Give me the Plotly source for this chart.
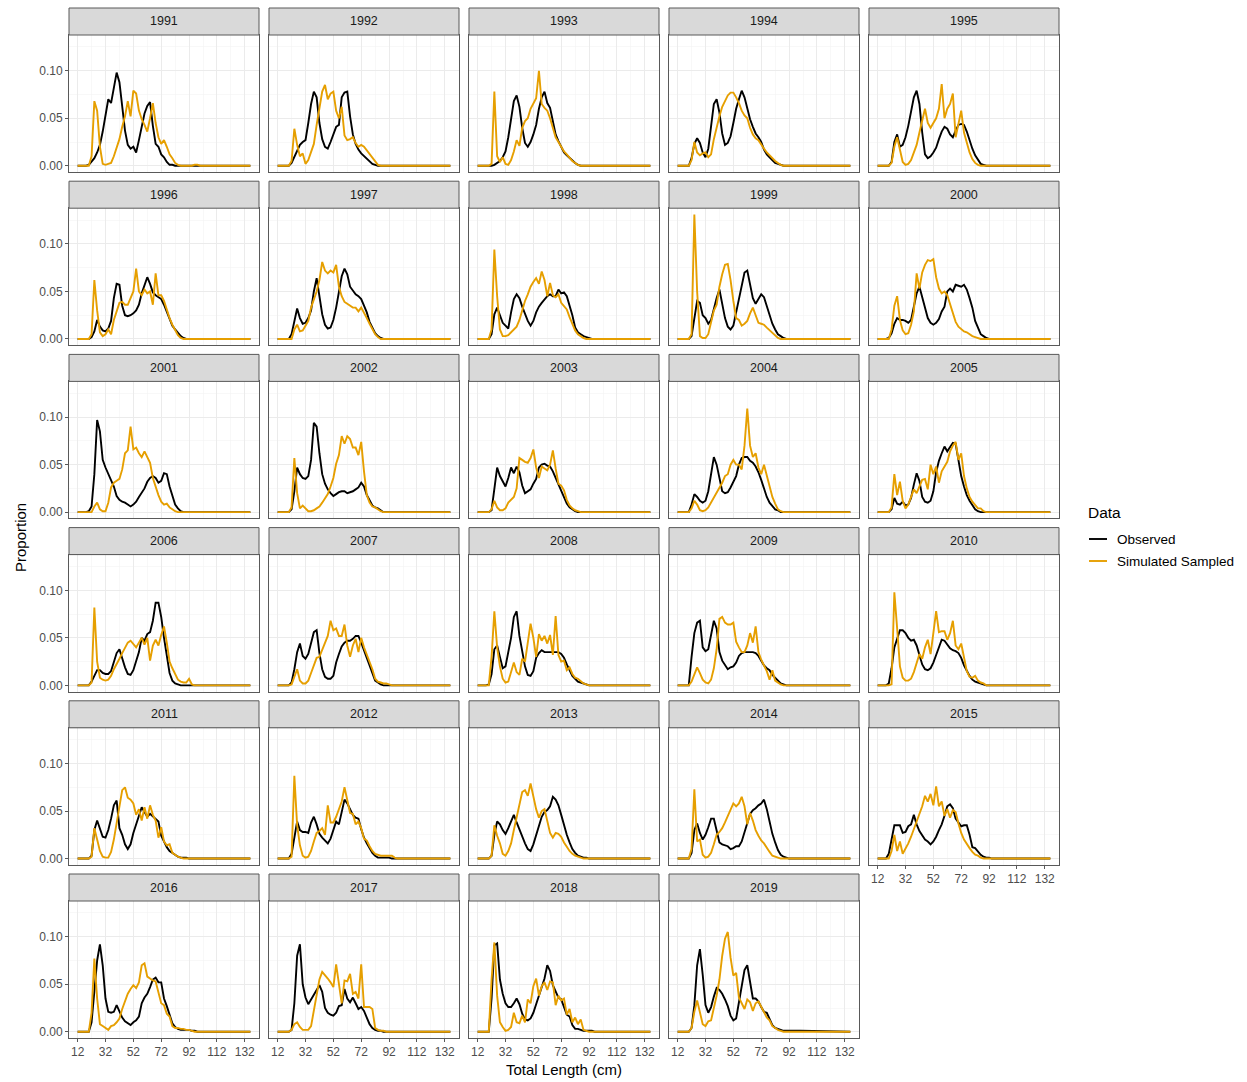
import plotly.graph_objects as go

# ---------------- data ----------------
LENGTHS = [12, 14, 16, 18, 20, 22, 24, 26, 28, 30, 32, 34, 36, 38, 40, 42, 44, 46, 48, 50,
           52, 54, 56, 58, 60, 62, 64, 66, 68, 70, 72, 74, 76, 78, 80, 82, 84, 86, 88, 90,
           92, 94, 96, 98, 100, 136]
YEARS = list(range(1991, 2020))
X_TICKS = [12, 32, 52, 72, 92, 112, 132]
X_MINOR = [22, 42, 62, 82, 102, 122]
Y_TICKS = [0.0, 0.05, 0.10]
Y_TICK_TEXT = ["0.00", "0.05", "0.10"]
Y_MINOR = [0.025, 0.075, 0.125]
SERIES = ["Observed", "Simulated Sampled"]
COLORS = {"Observed": "#000000", "Simulated Sampled": "#E69F00"}

obs_1991 = [0,0,0,0,0.001, 0.004,0.008,0.014,0.022,0.036, 0.055,0.07,0.066,0.083,0.098, 0.088,0.062,0.037,0.022,0.018, 0.02,0.014,0.027,0.043,0.055, 0.063,0.067,0.042,0.023,0.02, 0.012,0.009,0.004,0.001,0.001, 0,0,0,0,0, 0,0,0,0,0, 0]
sim_1991 = [0,0,0,0,0, 0.01,0.068,0.058,0.02,0.002, 0.001,0.002,0.003,0.01,0.02, 0.028,0.041,0.052,0.068,0.052, 0.079,0.076,0.058,0.049,0.043, 0.036,0.05,0.066,0.045,0.03, 0.023,0.027,0.02,0.012,0.008, 0.003,0.001,0,0,0, 0,0,0.001,0.001,0, 0]
obs_1992 = [0,0,0,0,0, 0.003,0.01,0.017,0.022,0.025, 0.027,0.045,0.065,0.078,0.072, 0.045,0.028,0.02,0.018,0.025, 0.034,0.041,0.043,0.072,0.077, 0.078,0.052,0.033,0.023,0.017, 0.013,0.01,0.007,0.004,0.002, 0.001,0,0,0,0, 0,0,0,0,0, 0]
sim_1992 = [0,0,0,0,0, 0.005,0.039,0.022,0.01,0.013, 0.002,0.006,0.014,0.023,0.043, 0.062,0.078,0.085,0.07,0.076, 0.078,0.058,0.05,0.062,0.032, 0.027,0.028,0.03,0.024,0.02, 0.022,0.02,0.016,0.012,0.009, 0.004,0.001,0,0,0, 0,0,0,0,0, 0]
obs_1993 = [0,0,0,0,0, 0,0.001,0.003,0.005,0.009, 0.015,0.03,0.05,0.068,0.074, 0.062,0.04,0.024,0.02,0.025, 0.033,0.043,0.06,0.072,0.078, 0.066,0.061,0.048,0.033,0.026, 0.02,0.014,0.011,0.008,0.006, 0.003,0.001,0,0,0, 0,0,0,0,0, 0]
sim_1993 = [0,0,0,0,0, 0.002,0.078,0.01,0.004,0.009, 0.002,0.001,0.006,0.015,0.027, 0.021,0.04,0.047,0.05,0.06, 0.065,0.071,0.1,0.065,0.061, 0.058,0.05,0.04,0.03,0.025, 0.02,0.015,0.012,0.008,0.005, 0.003,0.001,0,0,0, 0,0,0,0,0, 0]
obs_1994 = [0,0,0,0,0, 0.008,0.023,0.029,0.024,0.014, 0.009,0.018,0.04,0.065,0.07, 0.056,0.034,0.022,0.024,0.031, 0.045,0.06,0.07,0.079,0.072, 0.06,0.049,0.041,0.034,0.03, 0.025,0.017,0.012,0.009,0.006, 0.003,0.002,0.001,0,0, 0,0,0,0,0, 0]
sim_1994 = [0,0,0,0,0, 0.006,0.025,0.014,0.011,0.013, 0.014,0.009,0.012,0.028,0.041, 0.052,0.062,0.068,0.074,0.077, 0.077,0.072,0.066,0.058,0.053, 0.05,0.04,0.033,0.029,0.027, 0.022,0.018,0.014,0.011,0.007, 0.005,0.003,0.001,0,0, 0,0,0,0,0, 0]
obs_1995 = [0,0,0,0,0, 0.004,0.025,0.033,0.02,0.022, 0.03,0.042,0.058,0.072,0.079, 0.065,0.035,0.012,0.008,0.01, 0.014,0.019,0.028,0.036,0.041, 0.039,0.033,0.03,0.037,0.043, 0.044,0.043,0.036,0.026,0.018, 0.011,0.006,0.002,0.001,0, 0,0,0,0,0, 0]
sim_1995 = [0,0,0,0,0, 0.003,0.02,0.03,0.015,0.004, 0.001,0.002,0.006,0.013,0.022, 0.035,0.046,0.06,0.045,0.04, 0.045,0.05,0.06,0.086,0.05, 0.06,0.065,0.076,0.03,0.045, 0.058,0.035,0.024,0.014,0.007, 0.003,0.001,0,0,0, 0,0,0,0,0, 0]
obs_1996 = [0,0,0,0,0, 0.002,0.008,0.02,0.013,0.009, 0.008,0.011,0.019,0.043,0.058, 0.057,0.035,0.025,0.024,0.025, 0.027,0.03,0.036,0.048,0.057, 0.065,0.058,0.049,0.046,0.044, 0.042,0.036,0.028,0.02,0.014, 0.01,0.006,0.003,0.001,0, 0,0,0,0,0, 0]
sim_1996 = [0,0,0,0,0, 0.005,0.062,0.03,0.007,0.003, 0.005,0.01,0.005,0.02,0.028, 0.038,0.039,0.036,0.036,0.043, 0.05,0.074,0.05,0.046,0.052, 0.048,0.05,0.036,0.069,0.046, 0.046,0.04,0.03,0.022,0.015, 0.009,0.004,0.001,0,0, 0,0,0,0,0, 0]
obs_1997 = [0,0,0,0,0, 0.005,0.019,0.032,0.022,0.016, 0.017,0.022,0.03,0.05,0.064, 0.042,0.026,0.015,0.011,0.012, 0.02,0.033,0.05,0.066,0.074, 0.068,0.055,0.051,0.047,0.045, 0.042,0.035,0.028,0.018,0.011, 0.006,0.003,0.001,0,0, 0,0,0,0,0, 0]
sim_1997 = [0,0,0,0,0, 0,0.01,0.015,0.008,0.009, 0.014,0.019,0.033,0.042,0.05, 0.062,0.081,0.072,0.069,0.072, 0.07,0.078,0.055,0.045,0.039, 0.037,0.035,0.033,0.033,0.029, 0.033,0.028,0.022,0.016,0.01, 0.005,0.002,0,0,0, 0,0,0,0,0, 0]
obs_1998 = [0,0,0,0,0, 0.005,0.026,0.033,0.024,0.017, 0.014,0.011,0.028,0.042,0.047, 0.043,0.034,0.026,0.019,0.014, 0.019,0.028,0.034,0.038,0.042, 0.045,0.047,0.045,0.045,0.052, 0.048,0.049,0.045,0.035,0.025, 0.012,0.007,0.005,0.003,0.002, 0.001,0,0,0,0, 0]
sim_1998 = [0,0,0,0,0, 0.01,0.094,0.045,0.01,0.003, 0.003,0.004,0.007,0.01,0.013, 0.02,0.03,0.04,0.047,0.055, 0.06,0.064,0.058,0.071,0.062, 0.045,0.059,0.046,0.044,0.047, 0.038,0.034,0.031,0.023,0.015, 0.009,0.005,0.003,0.001,0, 0,0,0,0,0, 0]
obs_1999 = [0,0,0,0,0, 0.003,0.02,0.04,0.038,0.025, 0.022,0.016,0.02,0.032,0.043, 0.052,0.037,0.022,0.013,0.01, 0.014,0.028,0.045,0.058,0.07, 0.072,0.056,0.043,0.037,0.042, 0.047,0.044,0.035,0.024,0.016, 0.01,0.005,0.003,0.001,0, 0,0,0,0,0, 0]
sim_1999 = [0,0,0,0,0, 0.005,0.131,0.05,0.003,0.001, 0.001,0.005,0.018,0.03,0.036, 0.055,0.068,0.078,0.079,0.062, 0.04,0.022,0.02,0.014,0.016, 0.019,0.027,0.033,0.025,0.017, 0.016,0.015,0.012,0.009,0.006, 0.003,0.001,0,0,0, 0,0,0,0,0, 0]
obs_2000 = [0,0,0,0,0.001, 0.006,0.016,0.022,0.02,0.02, 0.019,0.017,0.02,0.033,0.048, 0.055,0.043,0.031,0.022,0.017, 0.015,0.017,0.021,0.029,0.034, 0.05,0.053,0.05,0.057,0.056, 0.055,0.057,0.052,0.043,0.033, 0.019,0.011,0.005,0.003,0.001, 0,0,0,0,0, 0]
sim_2000 = [0,0,0,0,0, 0.01,0.035,0.045,0.02,0.009, 0.005,0.006,0.015,0.029,0.069, 0.053,0.07,0.078,0.083,0.082, 0.084,0.065,0.053,0.048,0.05, 0.046,0.036,0.027,0.018,0.013, 0.01,0.008,0.007,0.005,0.003, 0.002,0.001,0,0,0, 0,0,0,0,0, 0]
obs_2001 = [0,0,0,0,0.001, 0.006,0.04,0.097,0.085,0.055, 0.047,0.04,0.034,0.027,0.017, 0.013,0.011,0.01,0.008,0.006, 0.008,0.011,0.016,0.021,0.025, 0.032,0.036,0.038,0.036,0.031, 0.033,0.041,0.04,0.027,0.016, 0.008,0.004,0.001,0,0, 0,0,0,0,0, 0]
sim_2001 = [0,0,0,0,0, 0,0.006,0.01,0.003,0.001, 0.001,0.01,0.026,0.031,0.033, 0.035,0.045,0.062,0.065,0.09, 0.066,0.068,0.062,0.058,0.064, 0.057,0.052,0.036,0.026,0.018, 0.011,0.008,0.009,0.005,0.003, 0.001,0,0,0,0, 0,0,0,0,0, 0]
obs_2002 = [0,0,0,0,0, 0.003,0.022,0.047,0.04,0.036, 0.035,0.038,0.055,0.094,0.09, 0.062,0.04,0.03,0.024,0.02, 0.017,0.019,0.021,0.022,0.022, 0.02,0.021,0.022,0.024,0.026, 0.031,0.027,0.018,0.012,0.007, 0.005,0.004,0.002,0,0, 0,0,0,0,0, 0]
sim_2002 = [0,0,0,0,0, 0.005,0.057,0.02,0.004,0.007, 0.004,0.001,0.001,0.002,0.004, 0.006,0.01,0.014,0.019,0.027, 0.036,0.051,0.06,0.08,0.072, 0.08,0.077,0.068,0.068,0.06, 0.074,0.043,0.018,0.01,0.006, 0.005,0.003,0.001,0,0, 0,0,0,0,0, 0]
obs_2003 = [0,0,0,0,0, 0.002,0.026,0.047,0.038,0.032, 0.027,0.036,0.047,0.041,0.048, 0.042,0.028,0.02,0.022,0.024, 0.03,0.035,0.047,0.05,0.051, 0.049,0.048,0.043,0.036,0.029, 0.021,0.014,0.009,0.005,0.003, 0.001,0,0,0,0, 0,0,0,0,0, 0]
sim_2003 = [0,0,0,0,0, 0.003,0.012,0.005,0.002,0.002, 0.004,0.01,0.013,0.016,0.025, 0.057,0.055,0.053,0.052,0.057, 0.066,0.047,0.036,0.048,0.046, 0.044,0.05,0.065,0.046,0.03, 0.028,0.023,0.013,0.007,0.004, 0.002,0.001,0,0,0, 0,0,0,0,0, 0]
obs_2004 = [0,0,0,0,0, 0.008,0.019,0.016,0.012,0.01, 0.012,0.022,0.04,0.058,0.05, 0.034,0.022,0.02,0.021,0.026, 0.032,0.038,0.05,0.057,0.058, 0.058,0.054,0.052,0.048,0.042, 0.034,0.024,0.016,0.01,0.006, 0.003,0.002,0,0,0, 0,0,0,0,0, 0]
sim_2004 = [0,0,0,0,0, 0.004,0.012,0.008,0.002,0.001, 0.002,0.005,0.01,0.015,0.02, 0.025,0.031,0.038,0.04,0.05, 0.055,0.05,0.05,0.045,0.07, 0.109,0.07,0.058,0.062,0.047, 0.04,0.05,0.038,0.025,0.016, 0.009,0.003,0.001,0,0, 0,0,0,0,0, 0]
obs_2005 = [0,0,0,0,0, 0.003,0.015,0.009,0.008,0.011, 0.007,0.008,0.015,0.029,0.041, 0.033,0.016,0.011,0.01,0.012, 0.022,0.042,0.054,0.062,0.069, 0.064,0.069,0.073,0.072,0.055, 0.038,0.027,0.018,0.012,0.007, 0.003,0.001,0,0,0, 0,0,0,0,0, 0]
sim_2005 = [0,0,0,0,0, 0.005,0.04,0.018,0.032,0.012, 0.004,0.008,0.015,0.024,0.02, 0.028,0.034,0.035,0.024,0.05, 0.04,0.048,0.031,0.043,0.048, 0.053,0.064,0.07,0.074,0.055, 0.062,0.038,0.025,0.016,0.011, 0.008,0.004,0.004,0.001,0, 0,0,0,0,0, 0]
obs_2006 = [0,0,0,0,0, 0.004,0.01,0.016,0.016,0.013, 0.012,0.012,0.015,0.025,0.034, 0.038,0.028,0.019,0.012,0.011, 0.016,0.025,0.035,0.05,0.047, 0.054,0.056,0.068,0.087,0.087, 0.072,0.05,0.03,0.013,0.005, 0.002,0.001,0,0,0, 0,0,0,0,0, 0]
sim_2006 = [0,0,0,0,0, 0.003,0.082,0.025,0.008,0.006, 0.005,0.006,0.01,0.017,0.022, 0.028,0.034,0.04,0.045,0.047, 0.044,0.04,0.045,0.05,0.043, 0.05,0.026,0.042,0.048,0.042, 0.053,0.062,0.045,0.025,0.018, 0.012,0.006,0.004,0.003,0.003, 0.007,0.001,0,0,0, 0]
obs_2007 = [0,0,0,0,0, 0.003,0.017,0.035,0.044,0.031, 0.028,0.033,0.045,0.056,0.058, 0.034,0.017,0.009,0.007,0.007, 0.01,0.024,0.033,0.041,0.045, 0.047,0.047,0.049,0.052,0.052, 0.045,0.036,0.029,0.021,0.012, 0.005,0.003,0.001,0,0, 0,0,0,0,0, 0]
sim_2007 = [0,0,0,0,0, 0.001,0.01,0.017,0.005,0.002, 0.002,0.005,0.013,0.022,0.029, 0.03,0.037,0.043,0.052,0.068, 0.058,0.06,0.052,0.052,0.064, 0.042,0.03,0.042,0.049,0.035, 0.05,0.04,0.033,0.025,0.017, 0.007,0.004,0.003,0.002,0.002, 0.001,0,0,0,0, 0]
obs_2008 = [0,0,0,0,0.001, 0.012,0.038,0.042,0.03,0.018, 0.02,0.035,0.05,0.072,0.078, 0.052,0.035,0.02,0.011,0.01, 0.015,0.029,0.034,0.037,0.035, 0.035,0.035,0.035,0.035,0.035, 0.033,0.029,0.022,0.015,0.01, 0.007,0.004,0.003,0.002,0.001, 0,0,0,0,0, 0]
sim_2008 = [0,0,0,0,0, 0.03,0.078,0.04,0.02,0.007, 0.003,0.004,0.015,0.024,0.014, 0.011,0.028,0.025,0.045,0.065, 0.05,0.03,0.054,0.047,0.052, 0.044,0.053,0.032,0.073,0.032, 0.025,0.026,0.016,0.019,0.012, 0.008,0.007,0.004,0.002,0.001, 0,0,0,0,0, 0]
obs_2009 = [0,0,0,0,0, 0.03,0.055,0.066,0.068,0.04, 0.036,0.038,0.052,0.068,0.06, 0.035,0.026,0.021,0.017,0.019, 0.02,0.024,0.031,0.034,0.035, 0.035,0.035,0.035,0.034,0.031, 0.026,0.021,0.018,0.016,0.011, 0.008,0.004,0.002,0.001,0, 0,0,0,0,0, 0]
sim_2009 = [0,0,0,0,0, 0.004,0.012,0.019,0.013,0.006, 0.003,0.002,0.006,0.018,0.038, 0.07,0.072,0.066,0.064,0.064, 0.066,0.046,0.04,0.035,0.035, 0.042,0.055,0.045,0.062,0.035, 0.027,0.021,0.015,0.006,0.016, 0.005,0.003,0.001,0,0, 0,0,0,0,0, 0]
obs_2010 = [0,0,0,0,0.002, 0.018,0.04,0.05,0.058,0.058, 0.055,0.05,0.047,0.048,0.042, 0.032,0.022,0.017,0.016,0.018, 0.024,0.032,0.039,0.048,0.047, 0.043,0.039,0.037,0.036,0.034, 0.029,0.021,0.015,0.01,0.006, 0.004,0.003,0.002,0.001,0, 0,0,0,0,0, 0]
sim_2010 = [0,0,0,0,0, 0.001,0.098,0.06,0.02,0.008, 0.005,0.005,0.007,0.014,0.025, 0.033,0.028,0.04,0.048,0.033, 0.055,0.078,0.056,0.057,0.057, 0.048,0.055,0.068,0.042,0.038, 0.044,0.028,0.015,0.009,0.008, 0.01,0.005,0.003,0.002,0, 0,0,0,0,0, 0]
obs_2011 = [0,0,0,0,0, 0.003,0.03,0.04,0.032,0.023, 0.022,0.03,0.042,0.056,0.061, 0.032,0.025,0.015,0.01,0.015, 0.027,0.036,0.046,0.054,0.049, 0.044,0.047,0.044,0.042,0.039, 0.024,0.017,0.012,0.008,0.006, 0.004,0.002,0.001,0.001,0.001, 0,0,0,0,0, 0]
sim_2011 = [0,0,0,0,0, 0.002,0.032,0.02,0.008,0.002, 0.001,0.001,0.007,0.02,0.038, 0.055,0.072,0.075,0.064,0.062, 0.058,0.046,0.052,0.04,0.054, 0.042,0.056,0.046,0.04,0.022, 0.033,0.018,0.014,0.015,0.006, 0.004,0.002,0.001,0,0, 0,0,0,0,0, 0]
obs_2012 = [0,0,0,0,0, 0.005,0.021,0.039,0.03,0.028, 0.028,0.027,0.038,0.044,0.036, 0.026,0.022,0.019,0.016,0.021, 0.03,0.039,0.036,0.05,0.062, 0.058,0.052,0.046,0.043,0.042, 0.031,0.022,0.016,0.011,0.006, 0.003,0.001,0.001,0.001,0.001, 0.001,0,0,0,0, 0]
sim_2012 = [0,0,0,0,0, 0.002,0.087,0.035,0.014,0.003, 0.001,0.002,0.008,0.018,0.027, 0.029,0.032,0.025,0.056,0.038, 0.038,0.044,0.052,0.06,0.075, 0.062,0.048,0.047,0.036,0.039, 0.032,0.021,0.019,0.013,0.008, 0.005,0.004,0.003,0.003,0.003, 0.003,0.003,0.001,0,0, 0]
obs_2013 = [0,0,0,0,0, 0.003,0.025,0.039,0.036,0.03, 0.026,0.032,0.039,0.046,0.038, 0.03,0.022,0.016,0.01,0.008, 0.015,0.025,0.036,0.044,0.049, 0.051,0.055,0.065,0.062,0.056, 0.046,0.035,0.025,0.017,0.01, 0.006,0.003,0.002,0.001,0.001, 0,0,0,0,0, 0]
sim_2013 = [0,0,0,0,0, 0.003,0.035,0.024,0.016,0.005, 0.003,0.008,0.016,0.03,0.044, 0.056,0.07,0.072,0.066,0.079, 0.064,0.052,0.043,0.05,0.052, 0.038,0.027,0.022,0.027,0.026, 0.023,0.017,0.012,0.008,0.005, 0.003,0.002,0.001,0,0, 0,0,0,0,0, 0]
obs_2014 = [0,0,0,0,0, 0.006,0.03,0.037,0.027,0.02, 0.025,0.033,0.042,0.042,0.028, 0.017,0.015,0.014,0.013,0.01, 0.011,0.013,0.013,0.018,0.027, 0.038,0.047,0.051,0.053,0.056, 0.058,0.062,0.052,0.039,0.026, 0.017,0.009,0.004,0.002,0.001, 0,0,0,0,0, 0]
sim_2014 = [0,0,0,0,0, 0.01,0.073,0.018,0.02,0.004, 0.001,0.002,0.006,0.015,0.025, 0.028,0.032,0.038,0.045,0.052, 0.058,0.055,0.058,0.065,0.055, 0.036,0.048,0.04,0.03,0.024, 0.019,0.016,0.011,0.007,0.003, 0.002,0.001,0,0,0, 0,0,0,0,0, 0]
obs_2015 = [0,0,0,0,0.005, 0.02,0.035,0.035,0.035,0.027, 0.028,0.034,0.036,0.046,0.036, 0.029,0.024,0.02,0.018,0.015, 0.018,0.023,0.03,0.036,0.045, 0.055,0.057,0.053,0.042,0.038, 0.034,0.035,0.035,0.025,0.012, 0.011,0.007,0.004,0.002,0.001, 0.001,0,0,0,0, 0]
sim_2015 = [0,0,0,0,0, 0.008,0.025,0.008,0.018,0.005, 0.01,0.016,0.023,0.031,0.04, 0.048,0.055,0.066,0.06,0.068, 0.056,0.076,0.055,0.06,0.045, 0.052,0.043,0.051,0.049,0.037, 0.027,0.02,0.015,0.011,0.007, 0.004,0.003,0.001,0,0, 0,0,0,0,0, 0]
obs_2016 = [0,0,0,0,0, 0.01,0.045,0.075,0.092,0.07, 0.035,0.021,0.02,0.021,0.028, 0.022,0.015,0.011,0.009,0.007, 0.01,0.012,0.016,0.03,0.036, 0.04,0.047,0.055,0.057,0.052, 0.052,0.035,0.027,0.018,0.009, 0.005,0.003,0.002,0.002,0.002, 0.002,0.001,0.001,0,0, 0]
sim_2016 = [0,0,0,0,0, 0.02,0.077,0.035,0.008,0.006, 0.004,0.002,0.006,0.007,0.01, 0.014,0.024,0.033,0.04,0.045, 0.049,0.046,0.052,0.07,0.072, 0.058,0.056,0.054,0.053,0.041, 0.03,0.028,0.019,0.016,0.006, 0.004,0.004,0.003,0.003,0.002, 0.002,0.001,0,0,0, 0]
obs_2017 = [0,0,0,0,0, 0.002,0.03,0.08,0.092,0.05, 0.036,0.029,0.034,0.038,0.044, 0.049,0.042,0.025,0.02,0.018, 0.017,0.02,0.027,0.028,0.045, 0.035,0.031,0.036,0.03,0.024, 0.026,0.022,0.015,0.008,0.004, 0.002,0.001,0.001,0,0, 0,0,0,0,0, 0]
sim_2017 = [0,0,0,0,0, 0.002,0.008,0.01,0.005,0.002, 0.002,0.002,0.006,0.022,0.038, 0.055,0.063,0.06,0.056,0.052, 0.047,0.071,0.05,0.03,0.054, 0.053,0.061,0.04,0.042,0.035, 0.071,0.026,0.026,0.026,0.024, 0.004,0.002,0.001,0.001,0, 0,0,0,0,0, 0]
obs_2018 = [0,0,0,0,0, 0.035,0.091,0.093,0.055,0.04, 0.03,0.026,0.026,0.03,0.035, 0.029,0.019,0.013,0.012,0.014, 0.02,0.029,0.038,0.047,0.056, 0.07,0.064,0.049,0.042,0.036, 0.034,0.025,0.018,0.016,0.007, 0.003,0.003,0.002,0.001,0.001, 0.001,0.001,0,0,0, 0]
sim_2018 = [0,0,0,0,0, 0.055,0.094,0.038,0.01,0.005, 0.001,0.002,0.005,0.02,0.01, 0.009,0.017,0.01,0.034,0.03, 0.048,0.056,0.038,0.048,0.052, 0.044,0.053,0.052,0.028,0.038, 0.033,0.035,0.018,0.024,0.01, 0.015,0.008,0.013,0.002,0.001, 0,0,0,0,0, 0]
obs_2019 = [0,0,0,0,0, 0.004,0.028,0.07,0.087,0.06, 0.028,0.02,0.026,0.037,0.046, 0.044,0.04,0.034,0.027,0.017, 0.012,0.014,0.03,0.045,0.065, 0.07,0.052,0.035,0.035,0.032, 0.026,0.021,0.02,0.013,0.007, 0.004,0.003,0.002,0.001,0.001, 0.001,0.001,0.001,0.001,0.001, 0]
sim_2019 = [0,0,0,0,0, 0.004,0.021,0.033,0.02,0.008, 0.006,0.011,0.012,0.024,0.038, 0.055,0.08,0.098,0.105,0.078, 0.059,0.062,0.036,0.03,0.024, 0.034,0.031,0.022,0.03,0.032, 0.026,0.02,0.015,0.012,0.006, 0.004,0.002,0.001,0,0, 0,0,0,0,0, 0]

OBSERVED = {y: globals()[f"obs_{y}"] for y in YEARS}
SIMULATED = {y: globals()[f"sim_{y}"] for y in YEARS}

# ---------------- layout constants ----------------
W, H = 1247, 1082
FONT = "Liberation Sans, Arial, Helvetica, sans-serif"
X_RANGE = [5.8, 142.2]
Y_RANGE = [-0.00655, 0.1376]
NCOL = 5
PANEL_LEFT0, PANEL_DX, PANEL_W = 69, 200, 190
STRIP_TOP0, ROW_DY, STRIP_H, PLOT_H = 8, 173.2, 27, 137
BORDER = "#595959"
GRID = "#EBEBEB"

fig = go.Figure()
layout = dict(
    width=W, height=H, margin=dict(l=0, r=0, t=0, b=0),
    paper_bgcolor="white", plot_bgcolor="white", showlegend=False,
    font=dict(family=FONT, color="#000000"),
)
shapes, annotations = [], []

for i, yr in enumerate(YEARS):
    r, c = divmod(i, NCOL)
    left = PANEL_LEFT0 + PANEL_DX * c
    right = left + PANEL_W
    s_top = STRIP_TOP0 + ROW_DY * r
    p_top = s_top + STRIP_H
    p_bot = p_top + PLOT_H
    n = i + 1
    sfx = "" if n == 1 else str(n)
    show_x = i >= len(YEARS) - NCOL
    show_y = c == 0

    layout["xaxis" + sfx] = dict(
        domain=[left / W, right / W], anchor="y" + sfx, range=X_RANGE,
        tickmode="array", tickvals=X_TICKS, ticktext=[str(v) for v in X_TICKS],
        showticklabels=show_x, ticks="outside" if show_x else "", ticklen=3,
        tickcolor=BORDER, tickwidth=1, tickfont=dict(size=12, color="#4D4D4D"),
        showgrid=True, gridcolor=GRID, gridwidth=1,
        minor=dict(tickvals=X_MINOR, showgrid=True, gridcolor="#F3F3F3", gridwidth=0.6),
        zeroline=False, showline=True, mirror=True, linecolor=BORDER, linewidth=1,
        fixedrange=True,
    )
    layout["yaxis" + sfx] = dict(
        domain=[1 - p_bot / H, 1 - p_top / H], anchor="x" + sfx, range=Y_RANGE,
        tickmode="array", tickvals=Y_TICKS, ticktext=Y_TICK_TEXT,
        showticklabels=show_y, ticks="outside" if show_y else "", ticklen=3,
        tickcolor=BORDER, tickwidth=1, tickfont=dict(size=12, color="#4D4D4D"),
        showgrid=True, gridcolor=GRID, gridwidth=1,
        minor=dict(tickvals=Y_MINOR, showgrid=True, gridcolor="#F3F3F3", gridwidth=0.6),
        zeroline=False, showline=True, mirror=True, linecolor=BORDER, linewidth=1,
        fixedrange=True,
    )

    for name, data in (("Observed", OBSERVED[yr]), ("Simulated Sampled", SIMULATED[yr])):
        fig.add_trace(go.Scatter(
            x=LENGTHS, y=data, mode="lines", name=name,
            line=dict(color=COLORS[name], width=1.9),
            xaxis="x" + sfx, yaxis="y" + sfx, hoverinfo="skip", showlegend=False,
        ))

    shapes.append(dict(
        type="rect", xref="paper", yref="paper",
        x0=left / W, x1=right / W, y0=1 - p_top / H, y1=1 - s_top / H,
        fillcolor="#D9D9D9", line=dict(color=BORDER, width=1), layer="above",
    ))
    annotations.append(dict(
        x=(left + right) / 2 / W, y=1 - (s_top + STRIP_H / 2) / H,
        xref="paper", yref="paper", text=str(yr), showarrow=False,
        xanchor="center", yanchor="middle",
        font=dict(size=12.5, color="#1A1A1A", family=FONT),
    ))

# axis titles
annotations.append(dict(
    x=(PANEL_LEFT0 + PANEL_DX * (NCOL - 1) + PANEL_W + PANEL_LEFT0) / 2 / W, y=1 - 1069 / H,
    xref="paper", yref="paper", text="Total Length (cm)", showarrow=False,
    xanchor="center", yanchor="middle", font=dict(size=15, color="#000000", family=FONT),
))
annotations.append(dict(
    x=20 / W, y=1 - 538 / H, xref="paper", yref="paper", text="Proportion",
    showarrow=False, textangle=-90, xanchor="center", yanchor="middle",
    font=dict(size=15, color="#000000", family=FONT),
))

# legend (drawn manually)
annotations.append(dict(
    x=1086 / W, y=1 - 512 / H, xref="paper", yref="paper", text="Data", showarrow=False,
    xanchor="left", yanchor="middle", font=dict(size=15.5, color="#000000", family=FONT),
))
for k, name in enumerate(SERIES):
    yk = 539 + 22 * k
    shapes.append(dict(
        type="line", xref="paper", yref="paper",
        x0=1089 / W, x1=1107 / W, y0=1 - yk / H, y1=1 - yk / H,
        line=dict(color=COLORS[name], width=1.9),
    ))
    annotations.append(dict(
        x=1115 / W, y=1 - yk / H, xref="paper", yref="paper", text=name, showarrow=False,
        xanchor="left", yanchor="middle", font=dict(size=13.5, color="#000000", family=FONT),
    ))

layout["shapes"] = shapes
layout["annotations"] = annotations
fig.update_layout(**layout)

fig.write_html(
    "out.html",
    config={"displayModeBar": False, "staticPlot": True},
    post_script="document.body.style.margin='0';document.body.style.overflow='hidden';",
)
